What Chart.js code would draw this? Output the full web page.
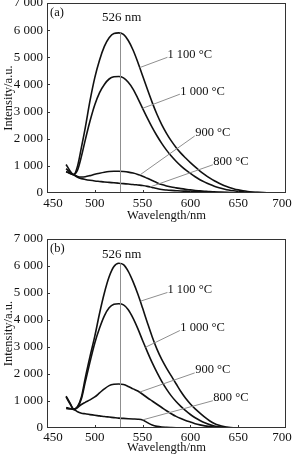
<!DOCTYPE html>
<html>
<head>
<meta charset="utf-8">
<script src="https://cdn.jsdelivr.net/npm/chart.js@4.4.1/dist/chart.umd.min.js"></script>
<style>
  html, body { margin: 0; padding: 0; background: #fff; }
  canvas { display: block; }
</style>
</head>
<body>
<canvas id="panelA" width="293" height="229"></canvas>
<canvas id="panelB" width="293" height="229"></canvas>
<script>
// PL spectra, panels (a) and (b)

const wavelengths = [470, 474, 478, 482, 486, 490,
  495, 500, 505, 510, 515, 520, 525, 530, 535, 540,
  545, 550, 555, 560, 565, 570, 575, 580, 585, 590,
  595, 600, 605, 610, 615, 620, 625, 630, 635, 640,
  645, 650, 655, 660, 665, 670,
  680, 690, 700];

const tempLabels = ['1 100 °C', '1 000 °C', '900 °C', '800 °C'];
const xTicks = [450, 500, 550, 600, 650, 700];
const yTicks = [0, 1000, 2000, 3000, 4000, 5000, 6000, 7000];
const peakNm = 526;

// panel (a)
const a1100 = [1050, 820, 680, 1000, 1680, 2400,
  3400, 4250, 4900, 5400, 5720, 5880, 5900, 5840, 5620, 5270,
  4820, 4320, 3820, 3340, 2900, 2520, 2200, 1920, 1680, 1470,
  1290, 1120, 960, 810, 680, 560, 450, 360, 280, 215,
  160, 115, 80, 55, 38, 25,
  10, 4, 0];
const a1000 = [900, 760, 680, 850, 1350, 1950,
  2650, 3250, 3700, 4000, 4200, 4280, 4290, 4240, 4080, 3830,
  3490, 3120, 2760, 2420, 2110, 1830, 1580, 1360, 1170, 1000,
  850, 720, 600, 490, 400, 320, 250, 195, 150, 110,
  80, 58, 40, 28, 18, 12,
  5, 2, 0];
const a900 = [780, 720, 670, 610, 590, 600,
  640, 690, 730, 765, 790, 800, 800, 790, 770, 735,
  685, 620, 540, 460, 380, 310, 260, 220, 190, 160,
  135, 115, 95, 80, 65, 50, 40, 30, 22, 15,
  10, 6, 4, 2, 0, 0,
  0, 0, 0];
const a800 = [790, 730, 670, 580, 530, 500,
  470, 445, 425, 405, 390, 375, 360, 345, 330, 315,
  295, 275, 245, 205, 165, 130, 110, 95, 85, 75,
  68, 60, 54, 48, 42, 36, 30, 24, 18, 13,
  9, 6, 4, 2, 0, 0,
  0, 0, 0];

// panel (b)
const b1100 = [1180, 930, 700, 800, 1150, 1850,
  2650, 3400, 4250, 5000, 5600, 5980, 6100, 6050, 5800, 5420,
  4960, 4440, 3900, 3380, 2920, 2540, 2220, 1930, 1640, 1350,
  1100, 890, 710, 550, 400, 270, 170, 100, 50, 22,
  9, 3, 0, 0, 0, 0,
  0, 0, 0];
const b1000 = [1150, 900, 700, 780, 1080, 1700,
  2450, 3150, 3700, 4150, 4450, 4580, 4600, 4560, 4380, 4070,
  3680, 3240, 2820, 2420, 2060, 1730, 1440, 1190, 980, 800,
  640, 500, 380, 280, 195, 125, 75, 42, 22, 9,
  3, 0, 0, 0, 0, 0,
  0, 0, 0];
const b900 = [760, 720, 690, 760, 870, 950,
  1040, 1150, 1300, 1450, 1570, 1620, 1630, 1610, 1540, 1450,
  1370, 1250, 1120, 1000, 880, 760, 640, 530, 430, 350,
  280, 220, 160, 115, 80, 55, 35, 20, 10, 5,
  2, 0, 0, 0, 0, 0,
  0, 0, 0];
const b800 = [720, 705, 690, 600, 550, 525,
  495, 470, 450, 425, 405, 385, 365, 355, 345, 335,
  325, 295, 200, 110, 60, 35, 25, 18, 12, 8,
  5, 4, 3, 3, 2, 2, 1, 1, 0, 0,
  0, 0, 0, 0, 0, 0,
  0, 0, 0];

const fontFamily = '"Liberation Serif", "Times New Roman", serif';
const inkColor = '#111';
const leaderColor = '#8f8f8f';
const labelSize = 12.5;

function fmtThousands(v) {
    return String(v).replace(/\B(?=(\d{3})+(?!\d))/g, ' ');
}

// frame, inner ticks, 526 nm line, call-out labels, x tick labels
const extrasPlugin = {
    id: 'extras',
    afterDatasetsDraw(chart, args, opts) {
        const { ctx, chartArea: area, scales: { x, y } } = chart;
        ctx.save();

        ctx.strokeStyle = leaderColor;
        ctx.lineWidth = 1;
        const px = Math.round(x.getPixelForValue(peakNm)) + 0.5;
        ctx.beginPath();
        ctx.moveTo(px, area.bottom);
        ctx.lineTo(px, y.getPixelForValue(opts.peakTop));
        ctx.stroke();

        opts.callouts.forEach(c => {
            ctx.beginPath();
            ctx.moveTo(x.getPixelForValue(c.from[0]), y.getPixelForValue(c.from[1]));
            ctx.lineTo(x.getPixelForValue(c.to[0]), y.getPixelForValue(c.to[1]));
            ctx.stroke();
        });

        ctx.strokeStyle = '#333';
        ctx.strokeRect(area.left + 0.5, area.top + 0.5, area.width - 1, area.height - 1);

        ctx.beginPath();
        xTicks.slice(1, -1).forEach(v => {
            const p = Math.round(x.getPixelForValue(v)) + 0.5;
            ctx.moveTo(p, area.bottom);
            ctx.lineTo(p, area.bottom - 3);
        });
        yTicks.slice(1, -1).forEach(v => {
            const p = Math.round(y.getPixelForValue(v)) + 0.5;
            ctx.moveTo(area.left, p);
            ctx.lineTo(area.left + 3, p);
        });
        ctx.stroke();

        ctx.fillStyle = inkColor;
        ctx.font = `${labelSize}px ${fontFamily}`;
        ctx.textBaseline = 'middle';
        ctx.textAlign = 'left';
        opts.callouts.forEach((c, i) => {
            ctx.fillText(tempLabels[i], x.getPixelForValue(c.text[0]), y.getPixelForValue(c.text[1]));
        });
        ctx.fillText(opts.tag, area.left + 3, area.top + 10);

        ctx.textAlign = 'center';
        ctx.font = `13px ${fontFamily}`;
        ctx.fillText(`${peakNm} nm`, x.getPixelForValue(peakNm) + 2, y.getPixelForValue(opts.peakLabelY));

        // x tick labels, ends pulled inward like the original
        xTicks.forEach((v, i) => {
            let shift = 0;
            if (i === 0) shift = 6;
            if (i === xTicks.length - 1) shift = -4;
            ctx.fillText(String(v), x.getPixelForValue(v) + shift, area.bottom + opts.tickGap);
        });

        ctx.restore();
    }
};

function makePanel(canvasId, series, cfg) {
    const datasets = series.map(s => ({
        data: wavelengths.map((w, i) => ({ x: w, y: s[i] })),
        borderColor: inkColor,
        borderWidth: 1.6,
        pointRadius: 0,
        cubicInterpolationMode: 'monotone',
        fill: false
    }));

    const tickFont = { family: fontFamily, size: 13 };
    const titleFont = { family: fontFamily, size: labelSize };

    return new Chart(document.getElementById(canvasId), {
        type: 'line',
        data: { datasets },
        options: {
            responsive: false,
            animation: false,
            devicePixelRatio: 1,
            layout: { padding: { top: cfg.top, right: 7, left: 0, bottom: 0 } },
            plugins: {
                legend: { display: false },
                tooltip: { enabled: false },
                extras: cfg
            },
            scales: {
                x: {
                    type: 'linear',
                    min: 450,
                    max: 700,
                    grid: { display: false, drawTicks: false },
                    border: { display: false },
                    ticks: { display: false },
                    afterBuildTicks: s => { s.ticks = xTicks.map(v => ({ value: v })); },
                    title: {
                        display: true,
                        text: 'Wavelength/nm',
                        color: inkColor,
                        font: titleFont,
                        padding: { top: 0, bottom: cfg.titleGap }
                    },
                    afterFit: s => {
                        s.height = cfg.xHeight;
                        s.paddingLeft = 0;
                        s.paddingRight = 0;
                    }
                },
                y: {
                    min: 0,
                    max: 7000,
                    grid: { display: false, drawTicks: false },
                    border: { display: false },
                    afterBuildTicks: s => { s.ticks = yTicks.map(v => ({ value: v })); },
                    ticks: {
                        padding: 4,
                        color: inkColor,
                        font: tickFont,
                        callback: v => fmtThousands(v)
                    },
                    title: {
                        display: true,
                        text: 'Intensity/a.u.',
                        color: inkColor,
                        font: titleFont,
                        padding: { top: 1, bottom: 0 }
                    },
                    afterFit: s => {
                        s.width = 47;
                        s.paddingTop = 0;
                        s.paddingBottom = 0;
                    }
                }
            }
        },
        plugins: [extrasPlugin]
    });
}

makePanel('panelA', [a1100, a1000, a900, a800], {
    tag: '(a)',
    top: 3,
    xHeight: 36,
    titleGap: 6,
    tickGap: 11,
    peakTop: 5900,
    peakLabelY: 6460,
    callouts: [
        { text: [576, 5090], from: [576, 5000], to: [547, 4620] },
        { text: [589.5, 3730], from: [589, 3640], to: [550, 3120] },
        { text: [605, 2210], from: [604.5, 2100], to: [547, 660] },
        { text: [624, 1140], from: [623.5, 1040], to: [558, 225] }
    ]
});

makePanel('panelB', [b1100, b1000, b900, b800], {
    tag: '(b)',
    top: 10,
    xHeight: 30,
    titleGap: 3,
    tickGap: 10,
    peakTop: 6100,
    peakLabelY: 6440,
    callouts: [
        { text: [576, 5110], from: [576, 5020], to: [548, 4700] },
        { text: [589.5, 3700], from: [589, 3610], to: [553, 2990] },
        { text: [605, 2150], from: [604.5, 2040], to: [547, 1330] },
        { text: [624, 1110], from: [623.5, 1010], to: [550, 300] }
    ]
});
</script>
</body>
</html>
